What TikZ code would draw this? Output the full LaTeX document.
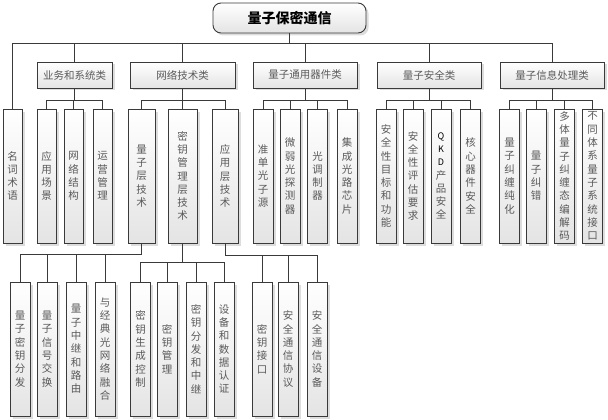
\documentclass[tikz,border=0pt]{standalone}
\usepackage{fontspec}
\newfontfamily\cjk{Noto Sans CJK SC}
\usetikzlibrary{shadows}
\definecolor{bordercol}{HTML}{3A3A3A}
\definecolor{boxbot}{HTML}{E4E4E4}
\definecolor{shadowcol}{HTML}{DDDDDD}
\definecolor{textcol}{HTML}{5A5A5A}
\tikzset{
 base/.style={draw=bordercol, line width=0.9pt, top color=white, bottom color=boxbot, inner sep=0pt,
   drop shadow={shadow xshift=2.5pt, shadow yshift=-2.5pt, fill=shadowcol, opacity=1},
   text=textcol, align=center, font=\cjk\fontsize{10.5}{13.3}\selectfont},
 rootbox/.style={base, rounded corners=8pt, minimum width=153pt, minimum height=30pt,
   text=black, font=\cjk\bfseries\fontsize{14}{16}\selectfont},
 cat/.style={base, minimum height=26pt},
 leaf/.style={base, minimum width=20pt, minimum height=134pt},
 link/.style={draw=bordercol, line width=0.9pt},
}
\begin{document}
\begin{tikzpicture}[x=1pt,y=-1pt]
\useasboundingbox[fill=white] (0,0) rectangle (608,420);
% root
\node[rootbox] (root) at (289.5,18) {量子保密通信};
% level 1
\node[cat, minimum width=75pt]  (ywxt) at (74.5,75) {业务和系统类};
\node[cat, minimum width=105pt] (wljs) at (182.5,75) {网络技术类};
\node[cat, minimum width=104pt] (lzty) at (305,75) {量子通用器件类};
\node[cat, minimum width=104pt] (lzaq) at (429,75) {量子安全类};
\node[cat, minimum width=104pt] (lzxx) at (552,75) {量子信息处理类};
% level 2
\node[leaf, minimum width=19pt] (mcsy) at (12.5,176) {名\\词\\术\\语};
\node[leaf, minimum width=19pt] (yycj) at (46.5,176) {应\\用\\场\\景};
\node[leaf, minimum width=19pt] (wljg) at (73.5,176) {网\\络\\结\\构};
\node[leaf, minimum width=19pt] (yygl) at (102.5,176) {运\\营\\管\\理};
\node[leaf, minimum width=27pt] (lzc) at (141.5,176) {量\\子\\层\\技\\术};
\node[leaf, minimum width=29pt] (mygl) at (182.5,176) {密\\钥\\管\\理\\层\\技\\术};
\node[leaf, minimum width=26pt] (yyc) at (225,176) {应\\用\\层\\技\\术};
\node[leaf] (zdgz) at (263,176) {准\\单\\光\\子\\源};
\node[leaf] (wrg) at (290,176) {微\\弱\\光\\探\\测\\器};
\node[leaf] (gtz) at (317.5,176) {光\\调\\制\\器};
\node[leaf] (jcgl) at (347,176) {集\\成\\光\\路\\芯\\片};
\node[leaf] (aqmb) at (386,176) {安\\全\\性\\目\\标\\和\\功\\能};
\node[leaf] (aqpg) at (413,176) {安\\全\\性\\评\\估\\要\\求};
\node[leaf] (qkd) at (441,176) {\fontsize{9}{13.3}\selectfont\color{black}Q\\\fontsize{9}{13.3}\selectfont\color{black}K\\\fontsize{9}{13.3}\selectfont\color{black}D\\产\\品\\安\\全};
\node[leaf] (hxqj) at (470.5,176) {核\\心\\器\\件\\安\\全};
\node[leaf] (jcch) at (509.5,176) {量\\子\\纠\\缠\\纯\\化};
\node[leaf] (jc) at (536,176) {量\\子\\纠\\错};
\node[leaf] (dt) at (564.5,176) {多\\体\\量\\子\\纠\\缠\\态\\编\\解\\码};
\node[leaf] (btjk) at (592.5,176) {不\\同\\体\\系\\量\\子\\系\\统\\接\\口};
% level 3
\node[leaf] (lzmy) at (20,349) {量\\子\\密\\钥\\分\\发};
\node[leaf] (lzxh) at (47,349) {量\\子\\信\\号\\交\\换};
\node[leaf] (lzzj) at (76,349) {量\\子\\中\\继\\和\\路\\由};
\node[leaf] (yjd) at (105,349) {与\\经\\典\\光\\网\\络\\融\\合};
\node[leaf] (myscz) at (140.5,349) {密\\钥\\生\\成\\控\\制};
\node[leaf] (mygl2) at (167,349) {密\\钥\\管\\理};
\node[leaf] (myff) at (196,349) {密\\钥\\分\\发\\和\\中\\继};
\node[leaf] (sbsj) at (224,349) {设\\备\\和\\数\\据\\认\\证};
\node[leaf] (myjk) at (262,349) {密\\钥\\接\\口};
\node[leaf] (aqtx) at (288,349) {安\\全\\通\\信\\协\\议};
\node[leaf] (aqsb) at (317,349) {安\\全\\通\\信\\设\\备};
% connectors
\foreach \c in {mcsy,ywxt,wljs,lzty,lzaq,lzxx}
  \draw[link] (root.south) -- ++(0,10) -| (\c.north);
\foreach \c in {yycj,wljg,yygl} \draw[link] (ywxt.south) -- ++(0,11.5) -| (\c.north);
\foreach \c in {lzc,mygl,yyc} \draw[link] (wljs.south) -- ++(0,11.5) -| (\c.north);
\foreach \c in {zdgz,wrg,gtz,jcgl} \draw[link] (lzty.south) -- ++(0,11.5) -| (\c.north);
\foreach \c in {aqmb,aqpg,qkd,hxqj} \draw[link] (lzaq.south) -- ++(0,11.5) -| (\c.north);
\foreach \c in {jcch,jc,dt,btjk} \draw[link] (lzxx.south) -- ++(0,11.5) -| (\c.north);
\foreach \c in {lzmy,lzxh,lzzj,yjd} \draw[link] (lzc.south) -- ++(0,11) -| (\c.north);
\foreach \c in {myscz,mygl2,myff,sbsj} \draw[link] (mygl.south) -- ++(0,19) -| (\c.north);
\foreach \c in {myjk,aqtx,aqsb} \draw[link] (yyc.south) -- ++(0,12) -| (\c.north);
\end{tikzpicture}
\end{document}
